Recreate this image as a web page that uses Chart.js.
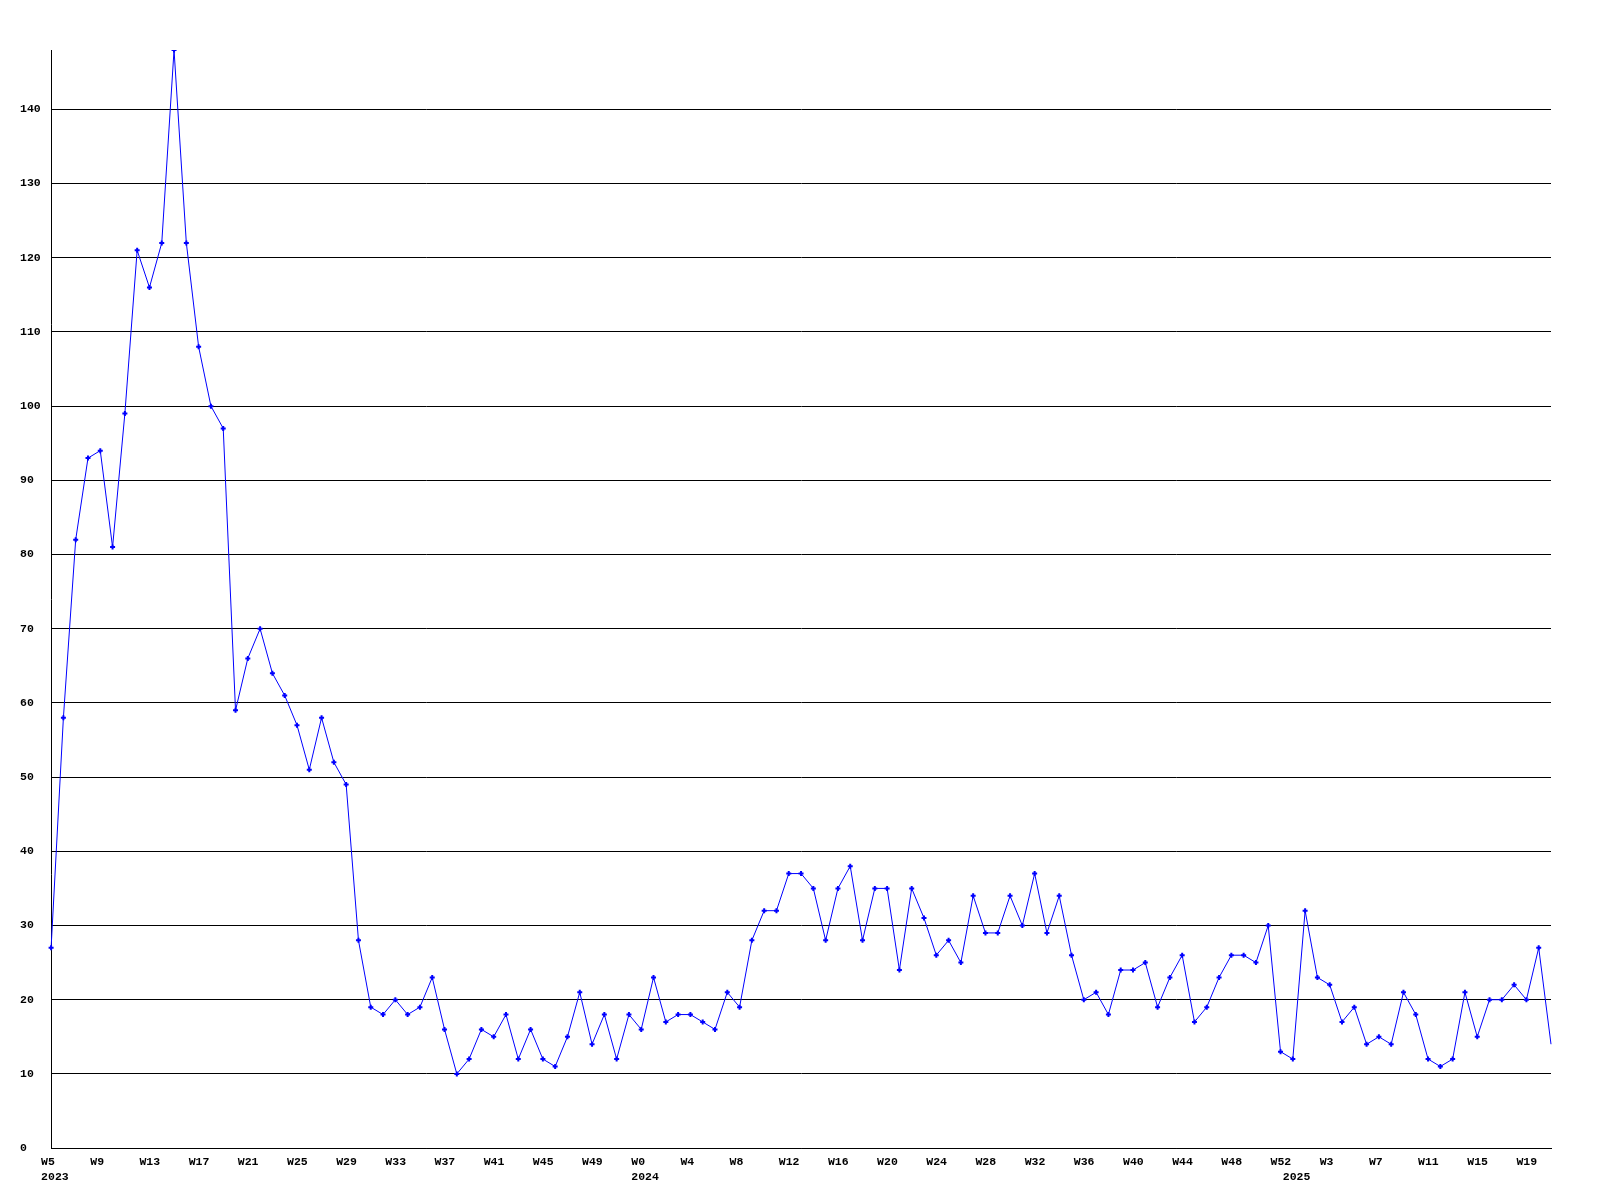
<!DOCTYPE html>
<html>
<head>
<meta charset="utf-8">
<script src="https://cdn.jsdelivr.net/npm/chart.js@4"></script>
<style>
  html, body { margin: 0; padding: 0; background: #fff; }
  #wrap { width: 1600px; height: 1200px; }
</style>
</head>
<body>
<div id="wrap"><canvas id="chart1" width="1600" height="1200"></canvas></div>
<script>
// week numbers per year (one point per week)
const weeks2023 = [5,6,7,8,9,10,11,12,13,14,15,16,17,18,19,20,21,22,23,24,25,26,27,28,29,30,31,32,33,34,35,36,37,38,39,40,41,42,43,44,45,46,47,48,49,50,51,52];
const weeks2024 = [0,1,2,3,4,5,6,7,8,9,10,11,12,13,14,15,16,17,18,19,20,21,22,23,24,25,26,27,28,29,30,31,32,33,34,35,36,37,38,39,40,41,42,43,44,45,46,47,48,49,50,51,52];
const weeks2025 = [0,1,2,3,4,5,6,7,8,9,10,11,12,13,14,15,16,17,18,19,20,21];

// weekly counts
const counts2023 = [27,58,82,93,94,81,99,121,116,122,148,122,108,100,97,59,66,70,64,61,57,51,58,52,49,28,19,18,20,18,19,23,16,10,12,16,15,18,12,16,12,11,15,21,14,18,12,18];
const counts2024 = [16,23,17,18,18,17,16,21,19,28,32,32,37,37,35,28,35,38,28,35,35,24,35,31,26,28,25,34,29,29,34,30,37,29,34,26,20,21,18,24,24,25,19,23,26,17,19,23,26,26,25,30,13];
const counts2025 = [12,32,23,22,17,19,14,15,14,21,18,12,11,12,21,15,20,20,22,20,27,14];

// tick labels shown under the axis (every 4th week), and where the year goes
const tickEvery = 4;
const yearTicks = { 0: '2023', 48: '2024', 101: '2025' };
const yTicks = [0,10,20,30,40,50,60,70,80,90,100,110,120,130,140];

const labels = [].concat(
  weeks2023.map(w => 'W' + w),
  weeks2024.map(w => 'W' + w),
  weeks2025.map(w => 'W' + w)
);
const values = [].concat(counts2023, counts2024, counts2025);

const monoFont = { family: '"Liberation Mono", "DejaVu Sans Mono", monospace', size: 11.5, weight: 'bold', lineHeight: 1.3 };

function createChart() {
  const ctx = document.getElementById('chart1');
  new Chart(ctx, {
    type: 'line',
    data: {
      labels: labels,
      datasets: [{
        data: values,
        borderColor: '#0000ff',
        backgroundColor: '#0000ff',
        borderWidth: 1,
        tension: 0,
        pointStyle: 'cross',
        pointRadius: c => (c.dataIndex === values.length - 1 ? 0 : 2.5),
        pointBorderWidth: 2,
        pointBorderColor: '#0000ff'
      }]
    },
    options: {
      responsive: false,
      animation: false,
      layout: { padding: { left: 20, top: 50, right: 49, bottom: 8 } },
      plugins: { legend: { display: false }, tooltip: { enabled: false } },
      scales: {
        x: {
          type: 'category',
          offset: false,
          grid: { display: false, drawTicks: false },
          border: { display: true, color: '#000', width: 1 },
          ticks: {
            autoSkip: false,
            maxRotation: 0,
            align: 'start',
            labelOffset: -10,
            padding: 7,
            color: '#000',
            font: monoFont,
            callback: function(val, i) {
              const wk = i % tickEvery === 0 ? labels[i] : '';
              if (yearTicks[i]) return [wk, yearTicks[i]];
              return wk;
            }
          }
        },
        y: {
          min: 0,
          max: 148,
          afterBuildTicks: s => { s.ticks = yTicks.map(v => ({ value: v })); },
          grid: { color: '#000', lineWidth: 1, drawTicks: false },
          border: { display: true, color: '#000', width: 1 },
          ticks: {
            padding: 5.2,
            crossAlign: 'far',
            color: '#000',
            font: monoFont
          }
        }
      }
    }
  });
}

createChart();
</script>
</body>
</html>
